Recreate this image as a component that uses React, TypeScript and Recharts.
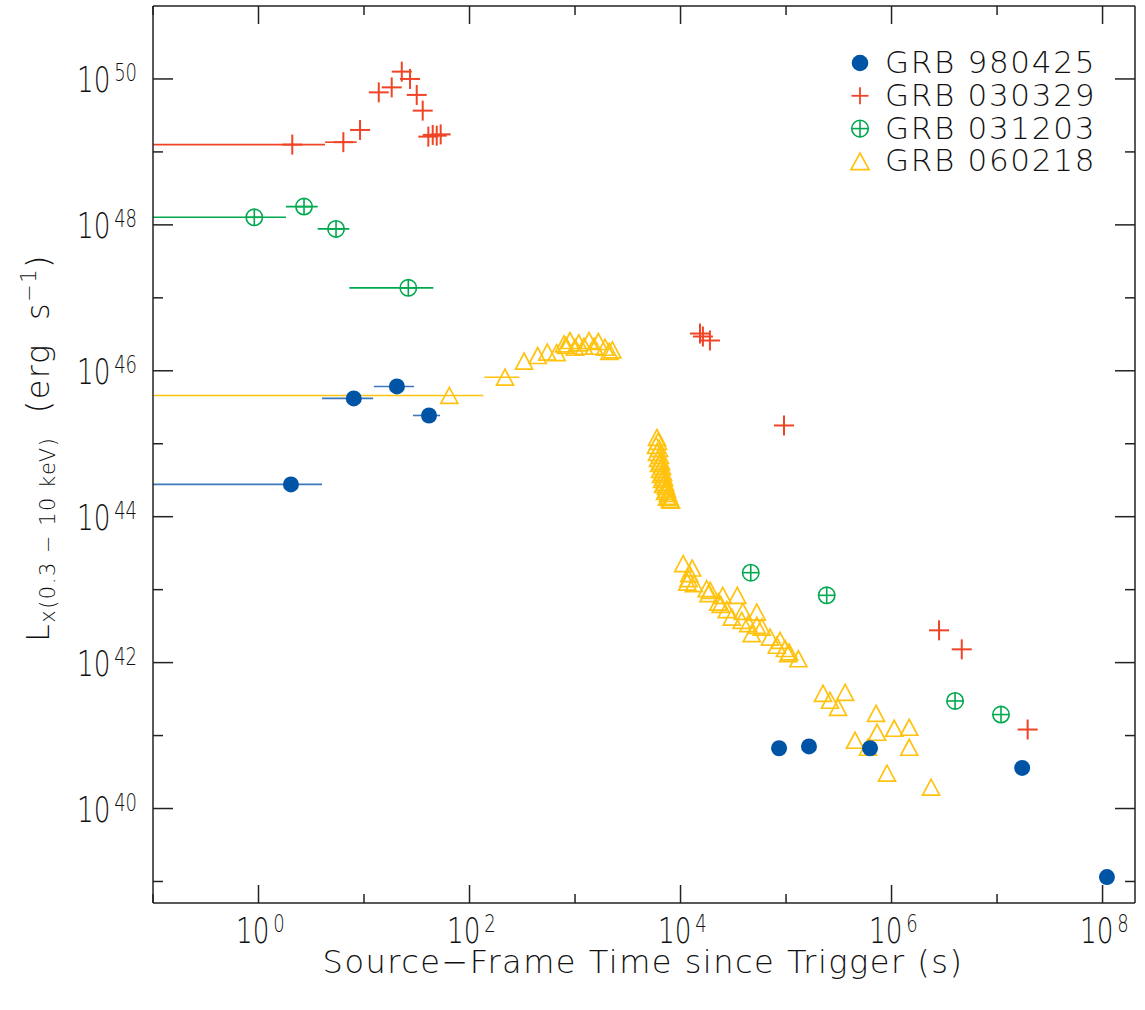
import React from 'react';
import { ScatterChart, Scatter, XAxis, YAxis, ErrorBar, Legend } from 'recharts';

// ---------------- data ----------------
// GRB 980425
const grb980425Time = [2.03, 8.0, 20.5, 41.3, 8.59e4, 1.65e5, 6.25e5, 1.73e7, 1.1e8];
const grb980425Lum = [2.77e44, 4.18e45, 6.1e45, 2.44e45, 6.7e40, 7.1e40, 6.7e40, 3.6e40, 1.15e39];
const grb980425TimeLo = [0.1, 4.0, 12.4, 29.1, null, null, null, null, null];
const grb980425TimeHi = [4.0, 12.2, 29.8, 52.5, null, null, null, null, null];

// GRB 030329
const grb030329Time = [2.09, 6.37, 9.17, 13.8, 18.3, 22.8, 27.3, 31.6, 36.0, 40.7, 44.8, 48.9, 53.3,
  1.53e4, 1.63e4, 1.9e4, 9.57e4, 2.82e6, 4.63e6, 1.95e7];
const grb030329Lum = [1.26e49, 1.36e49, 2.0e49, 6.55e49, 7.67e49, 1.26e50, 1.0e50, 6.04e49, 3.68e49,
  1.62e49, 1.71e49, 1.67e49, 1.74e49, 3.24e46, 2.95e46, 2.6e46, 1.78e45, 2.77e42, 1.52e42, 1.21e41];
const grb030329TimeLo = [0.1, 4.27];
const grb030329TimeHi = [4.27, 8.53];

// GRB 031203
const grb031203Time = [0.912, 2.7, 5.43, 26.3, 4.63e4, 2.43e5, 4.0e6, 1.09e7];
const grb031203Lum = [1.27e48, 1.78e48, 8.8e47, 1.37e47, 1.71e43, 8.36e42, 2.98e41, 1.94e41];
const grb031203TimeLo = [0.1, 1.82, 3.64, 7.26];
const grb031203TimeHi = [1.82, 3.64, 7.26, 45.4];

// GRB 060218
const grb060218Time = [
  64.4, 217, 329, 443, 546, 670, 787, 897, 822, 1000, 1084, 1218, 1357, 1514, 1664, 1923, 2259, 2113,
  5.99e3, 6.12e3, 5.86e3, 6.25e3, 5.99e3, 6.39e3, 6.12e3, 6.53e3, 6.25e3, 6.68e3, 6.39e3, 6.83e3, 6.53e3,
  6.98e3, 6.68e3, 7.13e3, 6.83e3, 7.29e3, 7.45e3, 7.13e3, 7.62e3, 7.79e3, 7.45e3, 7.95e3, 8.13e3,
  1.06e4, 1.29e4, 1.21e4, 1.19e4, 1.16e4, 1.34e4, 1.77e4, 1.91e4, 1.84e4, 2.51e4, 3.45e4, 2.28e4, 2.4e4,
  2.74e4, 3.89e4, 5.28e4, 3.06e4, 3.8e4, 4.39e4, 5.28e4, 4.73e4, 5.89e4, 7.05e4, 8.77e4, 8.17e4, 9.79e4,
  1.07e5, 1.05e5, 1.31e5,
  2.24e5, 2.61e5, 3.11e5, 3.63e5, 4.51e5, 5.99e5, 7.13e5, 7.29e5, 1.06e6, 1.47e6, 1.47e6, 9.06e5, 2.37e6,
];
const grb060218Lum = [
  4.59e45, 8.17e45, 1.36e46, 1.62e46, 1.8e46, 1.77e46, 2.34e46, 2.6e46, 2.22e46, 2.1e46, 2.42e46, 2.17e46,
  2.6e46, 2.17e46, 2.52e46, 2.1e46, 1.94e46, 1.84e46,
  1.22e45, 1.08e45, 9.49e44, 8.63e44, 7.61e44, 6.92e44, 6.3e44, 5.73e44, 5.38e44, 4.9e44, 4.46e44, 4.06e44,
  3.81e44, 3.47e44, 3.25e44, 2.96e44, 2.78e44, 2.61e44, 2.37e44, 2.23e44, 2.09e44, 1.9e44, 1.85e44,
  1.73e44, 1.68e44,
  2.27e43, 1.98e43, 1.66e43, 1.42e43, 1.27e43, 1.21e43, 1.03e43, 9.78e42, 8.81e42, 8.36e42, 8.36e42,
  6.76e42, 6.29e42, 5.32e42, 5.04e42, 4.93e42, 4.21e42, 3.8e42, 3.42e42, 3.24e42, 2.5e42, 3.07e42,
  2.24e42, 2.02e42, 1.73e42, 1.56e42, 1.4e42, 1.33e42, 1.13e42,
  3.79e41, 3.05e41, 2.44e41, 3.92e41, 8.63e40, 6.92e40, 2.02e41, 1.11e41, 1.26e41, 1.3e41, 6.92e40,
  3.05e40, 1.96e40,
];
const grb060218TimeLo = [0.1, 138];
const grb060218TimeHi = [135, 297];

// axes
const xTickExponents = [-1, 0, 1, 2, 3, 4, 5, 6, 7, 8];
const yTickExponents = [39, 40, 41, 42, 43, 44, 45, 46, 47, 48, 49, 50];
const xDomain = [0.1, 2.03e8];
const yDomain = [5.07e38, 1e51];

const seriesNames = ['GRB 980425', 'GRB 030329', 'GRB 031203', 'GRB 060218'];

// ---------------- styles ----------------
const BLUE = '#0054A6';
const RED = '#EF4426';
const GREEN = '#00A94F';
const YELLOW = '#FFC20E';
const AXIS = '#222';
const TEXT_FONT = "'DejaVu Sans', sans-serif";

function buildRows(times: number[], lums: number[], lo: (number | null)[], hi: (number | null)[]) {
  return times.map((t, i) => {
    const row: any = { t, L: lums[i] };
    const l = lo[i];
    const h = hi[i];
    if (l != null && h != null) row.xErr = [t - l, h - t];
    return row;
  });
}

const data980425 = buildRows(grb980425Time, grb980425Lum, grb980425TimeLo, grb980425TimeHi);
const data030329 = buildRows(grb030329Time, grb030329Lum, grb030329TimeLo, grb030329TimeHi);
const data031203 = buildRows(grb031203Time, grb031203Lum, grb031203TimeLo, grb031203TimeHi);
const data060218 = buildRows(grb060218Time, grb060218Lum, grb060218TimeLo, grb060218TimeHi);

// ---------------- marker shapes ----------------
const DotMark = ({ cx, cy, r = 8 }: any) => <circle cx={cx} cy={cy} r={r} fill={BLUE} />;
const PlusMark = ({ cx, cy, s = 10, w = 2 }: any) => (
  <g stroke={RED} strokeWidth={w}>
    <line x1={cx - s} y1={cy} x2={cx + s} y2={cy} />
    <line x1={cx} y1={cy - s} x2={cx} y2={cy + s} />
  </g>
);
const CirclePlusMark = ({ cx, cy, r = 8.2 }: any) => (
  <g stroke={GREEN} strokeWidth={1.6} fill="none">
    <circle cx={cx} cy={cy} r={r} />
    <line x1={cx - r} y1={cy} x2={cx + r} y2={cy} />
    <line x1={cx} y1={cy - r} x2={cx} y2={cy + r} />
  </g>
);
const TriangleMark = ({ cx, cy, w = 8.5, h = 8 }: any) => (
  <polygon
    points={`${cx},${cy - h} ${cx - w},${cy + h} ${cx + w},${cy + h}`}
    fill="none"
    stroke={YELLOW}
    strokeWidth={1.7}
    strokeLinejoin="miter"
  />
);

// ---------------- ticks ----------------
const expOf = (v: number) => Math.round(Math.log10(v));

// "10" + superscript exponent; (x0, base) = left edge and baseline of "10", horizontally condensed
const PowerLabel = ({ x0, base, e }: any) => (
  <text transform={`translate(${x0} ${base}) scale(0.75 1)`} x={0} y={0} fill="#111" fontFamily={TEXT_FONT}
    fontWeight={200} fontSize={35}>
    10
    <tspan dx={5} dy={-11} fontSize={24}>{e}</tspan>
  </text>
);

const BottomTick = (props: any) => {
  const { x, y, payload } = props;
  const e = expOf(payload.value);
  const major = e % 2 === 0;
  return (
    <g>
      <line x1={x} y1={y} x2={x} y2={y - (major ? 18 : 9)} stroke={AXIS} strokeWidth={1.5} />
      {major && <PowerLabel x0={x - 22.5} base={y + 40} e={e} />}
    </g>
  );
};
const TopTick = (props: any) => {
  const { x, y, payload } = props;
  const e = expOf(payload.value);
  const major = e % 2 === 0;
  return <line x1={x} y1={y} x2={x} y2={y + (major ? 18 : 9)} stroke={AXIS} strokeWidth={1.5} />;
};
const LeftTick = (props: any) => {
  const { x, y, payload } = props;
  const e = expOf(payload.value);
  const major = e % 2 === 0;
  return (
    <g>
      <line x1={x} y1={y} x2={x + (major ? 20 : 10)} y2={y} stroke={AXIS} strokeWidth={1.5} />
      {major && <PowerLabel x0={x - 76} base={y + 13.5} e={e} />}
    </g>
  );
};
const RightTick = (props: any) => {
  const { x, y, payload } = props;
  const e = expOf(payload.value);
  const major = e % 2 === 0;
  return <line x1={x} y1={y} x2={x - (major ? 20 : 10)} y2={y} stroke={AXIS} strokeWidth={1.5} />;
};

// ---------------- titles ----------------
const XTitle = () => (
  <text x={643} y={973} textAnchor="middle" fontFamily={TEXT_FONT} fontWeight={200} fontSize={32}
    letterSpacing={1.5} fill="#111">
    Source−Frame Time since Trigger (s)
  </text>
);
const YTitle = () => (
  <text transform="translate(49,448) rotate(-90)" x={0} y={0} textAnchor="middle" fontFamily={TEXT_FONT}
    fontWeight={200} fontSize={32} letterSpacing={1.5} fill="#111">
    L
    <tspan fontSize={21} dy={6}>x(0.3 − 10 keV)</tspan>
    <tspan dy={-6}>{'\u00a0\u00a0(erg\u00a0\u00a0s'}</tspan>
    <tspan fontSize={21} dy={-13}>−1</tspan>
    <tspan dy={13}>)</tspan>
  </text>
);

// ---------------- legend ----------------
const legendMarkers = [
  (cx: number, cy: number) => <DotMark cx={cx} cy={cy} r={8.3} />,
  (cx: number, cy: number) => <PlusMark cx={cx} cy={cy} s={8.5} w={1.8} />,
  (cx: number, cy: number) => <CirclePlusMark cx={cx} cy={cy} r={8.3} />,
  (cx: number, cy: number) => <TriangleMark cx={cx} cy={cy} w={9} h={8.3} />,
];
const LegendBox = () => (
  <svg width={300} height={140} style={{ overflow: 'visible' }}>
    {seriesNames.map((name, i) => {
      const cy = 18 + i * 32.8;
      return (
        <g key={name}>
          {legendMarkers[i](20, cy)}
          <text x={45} y={cy + 10} fontFamily={TEXT_FONT} fontWeight={200} fontSize={31} letterSpacing={1.7}
            fill="#111">
            {name}
          </text>
        </g>
      );
    })}
  </svg>
);

export default function App() {
  return (
    <div style={{ position: 'absolute', left: 0, top: 0, background: '#fff' }}>
      <ScatterChart width={1145} height={1010} margin={{ top: 5, right: 9, bottom: 106, left: 152 }}>
        <XAxis xAxisId="b" type="number" dataKey="t" scale="log" domain={xDomain} allowDataOverflow
          ticks={xTickExponents.map((e) => Math.pow(10, e))} interval={0} height={1} tickSize={0} tickMargin={0}
          tickLine={false} tick={<BottomTick />} axisLine={{ stroke: AXIS, strokeWidth: 1.5 }}
          label={<XTitle />} />
        <XAxis xAxisId="t" orientation="top" type="number" dataKey="t" scale="log" domain={xDomain} allowDataOverflow
          ticks={xTickExponents.map((e) => Math.pow(10, e))} interval={0} height={1} tickSize={0} tickMargin={0}
          tickLine={false} tick={<TopTick />} axisLine={{ stroke: AXIS, strokeWidth: 1.5 }} />
        <YAxis yAxisId="l" type="number" dataKey="L" scale="log" domain={yDomain} allowDataOverflow
          ticks={yTickExponents.map((e) => Math.pow(10, e))} interval={0} width={1} tickSize={0} tickMargin={0}
          tickLine={false} tick={<LeftTick />} axisLine={{ stroke: AXIS, strokeWidth: 1.5 }}
          label={<YTitle />} />
        <YAxis yAxisId="r" orientation="right" type="number" dataKey="L" scale="log" domain={yDomain} allowDataOverflow
          ticks={yTickExponents.map((e) => Math.pow(10, e))} interval={0} width={1} tickSize={0} tickMargin={0}
          tickLine={false} tick={<RightTick />} axisLine={{ stroke: AXIS, strokeWidth: 1.5 }} />

        <Scatter name={seriesNames[3]} data={data060218} xAxisId="b" yAxisId="l" isAnimationActive={false}
          shape={(p: any) => <TriangleMark cx={p.cx} cy={p.cy} />}>
          <ErrorBar dataKey="xErr" direction="x" width={0} stroke={YELLOW} strokeWidth={1.6} />
        </Scatter>
        <Scatter name={seriesNames[0]} data={data980425} xAxisId="b" yAxisId="l" isAnimationActive={false}
          shape={(p: any) => <DotMark cx={p.cx} cy={p.cy} />}>
          <ErrorBar dataKey="xErr" direction="x" width={0} stroke="#3D78BD" strokeWidth={1.6} />
        </Scatter>
        <Scatter name={seriesNames[1]} data={data030329} xAxisId="b" yAxisId="l" isAnimationActive={false}
          shape={(p: any) => <PlusMark cx={p.cx} cy={p.cy} />}>
          <ErrorBar dataKey="xErr" direction="x" width={0} stroke={RED} strokeWidth={1.6} />
        </Scatter>
        <Scatter name={seriesNames[2]} data={data031203} xAxisId="b" yAxisId="l" isAnimationActive={false}
          shape={(p: any) => <CirclePlusMark cx={p.cx} cy={p.cy} />}>
          <ErrorBar dataKey="xErr" direction="x" width={0} stroke={GREEN} strokeWidth={1.6} />
        </Scatter>

        <Legend layout="vertical" align="center" verticalAlign="middle" content={<LegendBox />}
          wrapperStyle={{ left: 840, top: 45, width: 300, height: 140 }} />
      </ScatterChart>
    </div>
  );
}
